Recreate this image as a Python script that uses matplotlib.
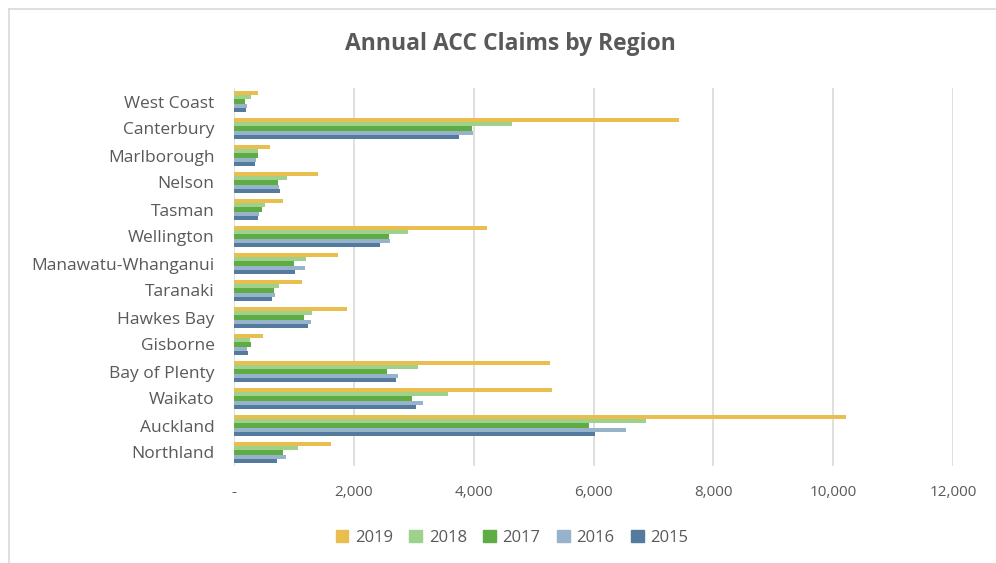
import matplotlib.pyplot as plt
import numpy as np
from matplotlib.lines import Line2D

regions = ["Northland", "Auckland", "Waikato", "Bay of Plenty", "Gisborne",
           "Hawkes Bay", "Taranaki", "Manawatu-Whanganui", "Wellington",
           "Tasman", "Nelson", "Marlborough", "Canterbury", "West Coast"]
years = ["2019", "2018", "2017", "2016", "2015"]

claims_2019 = [1620, 10210, 5310, 5270, 480, 1880, 1130, 1740, 4230, 820, 1400, 600, 7420, 400]
claims_2018 = [1060, 6870, 3570, 3070, 260, 1300, 745, 1200, 2910, 510, 880, 400, 4640, 280]
claims_2017 = [820, 5920, 2970, 2560, 280, 1170, 670, 1000, 2580, 470, 740, 395, 3980, 190]
claims_2016 = [860, 6540, 3160, 2740, 220, 1280, 690, 1180, 2610, 420, 750, 360, 3990, 210]
claims_2015 = [720, 6020, 3040, 2710, 235, 1240, 640, 1010, 2430, 405, 760, 350, 3760, 195]

colors = ["#E8BE4F", "#9ED18B", "#60AC44", "#97B3CB", "#547B9D"]
series = [claims_2019, claims_2018, claims_2017, claims_2016, claims_2015]

plt.rcParams['font.family'] = ['Open Sans', 'DejaVu Sans']
grey = "#595959"

fig = plt.figure(figsize=(9.96, 5.63), dpi=100)
ax = fig.add_axes([234 / 996, 1 - 466 / 563, (953 - 234) / 996, (466 - 88) / 563])

y = np.arange(len(regions))
h = 0.15
for i, (vals, c, yr) in enumerate(zip(series, colors, years)):
    ax.barh(y + (2 - i) * h, vals, height=h, color=c, label=yr, zorder=3)

ax.set_xlim(0, 12000)
ax.set_ylim(-0.5, len(regions) - 0.5)
ax.set_xticks(np.arange(0, 12001, 2000))
ax.set_xticklabels(["-"] + [f"{v:,}" for v in range(2000, 12001, 2000)])
ax.set_yticks(y)
ax.set_yticklabels(regions)
ax.tick_params(axis='y', length=0, labelsize=12.5, labelcolor=grey, pad=14)
ax.tick_params(axis='x', length=0, labelsize=11, labelcolor=grey, pad=14)
ax.grid(axis='x', color="#D9D9D9", linewidth=1.2, zorder=0)
for s in ax.spines.values():
    s.set_visible(False)

fig.text(510 / 996, 1 - 44 / 563, "Annual ACC Claims by Region", ha='center', va='center',
         fontsize=16.5, fontweight='bold', color=grey)

handles = [plt.Rectangle((0, 0), 1, 1, color=c) for c in colors]
fig.legend(handles, years, loc='center', bbox_to_anchor=(512 / 996, 1 - 538 / 563), ncol=5,
           frameon=False, fontsize=12, labelcolor=grey, handlelength=0.75, handleheight=0.75,
           handletextpad=0.4, columnspacing=1.0)

fig.add_artist(Line2D([8.5 / 996, 8.5 / 996], [0, 1 - 9 / 563], color="#D9D9D9", lw=1.2,
                      transform=fig.transFigure))
fig.add_artist(Line2D([8.5 / 996, 1], [1 - 9 / 563, 1 - 9 / 563], color="#D9D9D9", lw=1.2,
                      transform=fig.transFigure))

fig.savefig("out.png", dpi=100)
